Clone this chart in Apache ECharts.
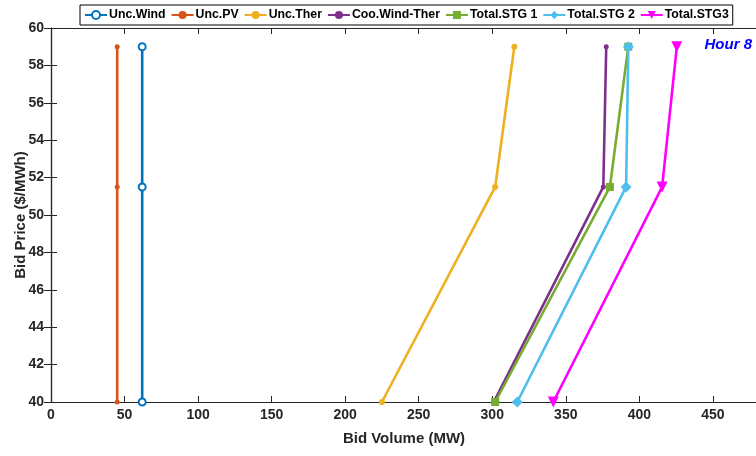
<!DOCTYPE html>
<html><head><meta charset="utf-8">
<script src="https://cdn.jsdelivr.net/npm/echarts@6/dist/echarts.min.js"></script>
<style>html,body{margin:0;padding:0;background:#fff}#c{width:756px;height:456px}</style>
</head><body><div id="c"></div>
<script>
const price = [40, 51.5, 59];
const uncWind = [62, 62, 62];
const uncPV = [45, 45, 45];
const uncTher = [225, 302, 315];
const cooWindTher = [301, 375.5, 377.5];
const totalSTG1 = [302, 380, 392.5];
const totalSTG2 = [317, 391, 392.5];
const totalSTG3 = [341.5, 415.5, 425.5];
const seriesNames = ['Unc.Wind','Unc.PV','Unc.Ther','Coo.Wind-Ther','Total.STG 1','Total.STG 2','Total.STG3'];
const xTicks = [0,50,100,150,200,250,300,350,400,450];
const yTicks = [40,42,44,46,48,50,52,54,56,58,60];

const pair = arr => arr.map((v,i)=>[v, price[i]]);
const colors = ['#0072BD','#D95319','#EDB120','#7E2F8E','#77AC30','#4DBEEE','#FF00FF'];
const styles = [
  {symbol:'emptyCircle', symbolSize:7, bw:3},
  {symbol:'circle', symbolSize:5, bw:0},
  {symbol:'circle', symbolSize:6, bw:0},
  {symbol:'circle', symbolSize:5, bw:0},
  {symbol:'rect', symbolSize:8, bw:0},
  {symbol:'diamond', symbolSize:11, bw:0},
  {symbol:'triangle', symbolSize:11, bw:0, rot:180}
];
const datasets = [uncWind, uncPV, uncTher, cooWindTher, totalSTG1, totalSTG2, totalSTG3];

const series = datasets.map((d,i)=>({
  name: seriesNames[i], type:'line', data: pair(d),
  symbol: styles[i].symbol, symbolSize: styles[i].symbolSize,
  symbolRotate: styles[i].rot || 0,
  showAllSymbol: true,
  lineStyle:{color:colors[i], width:2.6},
  itemStyle:{color:colors[i], borderColor:colors[i], borderWidth:styles[i].bw},
  emphasis:{disabled:true}, animation:false, z: 3+i
}));

const fam = '"Liberation Sans", Arial, sans-serif';
const axisTxt = {color:'#262626', fontFamily:fam, fontWeight:'bold', fontSize:14};
const chart = echarts.init(document.getElementById('c'), null, {renderer:'canvas'});
chart.setOption({
  animation:false,
  color: colors,
  grid:{left:51, right:-1, top:28, bottom:54, containLabel:false, outerBoundsMode:'none'},
  legend:{
    data: seriesNames, top:5, left:80, width:740,
    itemWidth:22, itemHeight:10, itemGap:5,
    padding:[4,4,4,4],
    borderColor:'#000', borderWidth:1, backgroundColor:'#fff',
    textStyle:{color:'#000', fontFamily:fam, fontWeight:'bold', fontSize:12.3, padding:[0,0,0,-3]},
    z:10
  },
  xAxis:[{
    type:'value', min:0, max:480, interval:50, position:'bottom',
    name:'Bid Volume (MW)', nameLocation:'middle', nameGap:29, nameMoveOverlap:false,
    nameTextStyle:{...axisTxt, fontSize:15},
    axisLine:{show:true, lineStyle:{color:'#262626', width:1.2}},
    axisTick:{show:true, inside:true, length:6, lineStyle:{color:'#262626'}},
    axisLabel:{...axisTxt, margin:6, showMaxLabel:false, formatter:v=> xTicks.includes(v)?String(v):''},
    splitLine:{show:false}
  },{
    type:'value', min:0, max:480, interval:50, position:'top',
    axisLine:{show:true, lineStyle:{color:'#262626', width:1.2}},
    axisTick:{show:true, inside:true, length:6, lineStyle:{color:'#262626'}},
    axisLabel:{show:false}, splitLine:{show:false}
  }],
  yAxis:[{
    type:'value', min:40, max:60, interval:2, position:'left',
    name:'Bid Price ($/MWh)', nameLocation:'middle', nameGap:23, nameRotate:90, nameMoveOverlap:false,
    nameTextStyle:{...axisTxt, fontSize:15},
    axisLine:{show:true, lineStyle:{color:'#262626', width:1.2}},
    axisTick:{show:true, inside:true, length:6, lineStyle:{color:'#262626'}},
    axisLabel:{...axisTxt, margin:7, formatter:v=> yTicks.includes(v)?String(v):''},
    splitLine:{show:false}
  },{
    type:'value', min:40, max:60, interval:2, position:'right',
    axisLine:{show:true, lineStyle:{color:'#262626', width:1.2}},
    axisTick:{show:true, inside:true, length:7, lineStyle:{color:'#262626'}},
    axisLabel:{show:false}, splitLine:{show:false}
  }],
  graphic:[{
    type:'text', right:4, top:37,
    style:{text:'Hour 8', fill:'#0000FF', font:'italic bold 15px "Liberation Sans", Arial, sans-serif'}
  }],
  series: series
});
</script></body></html>
